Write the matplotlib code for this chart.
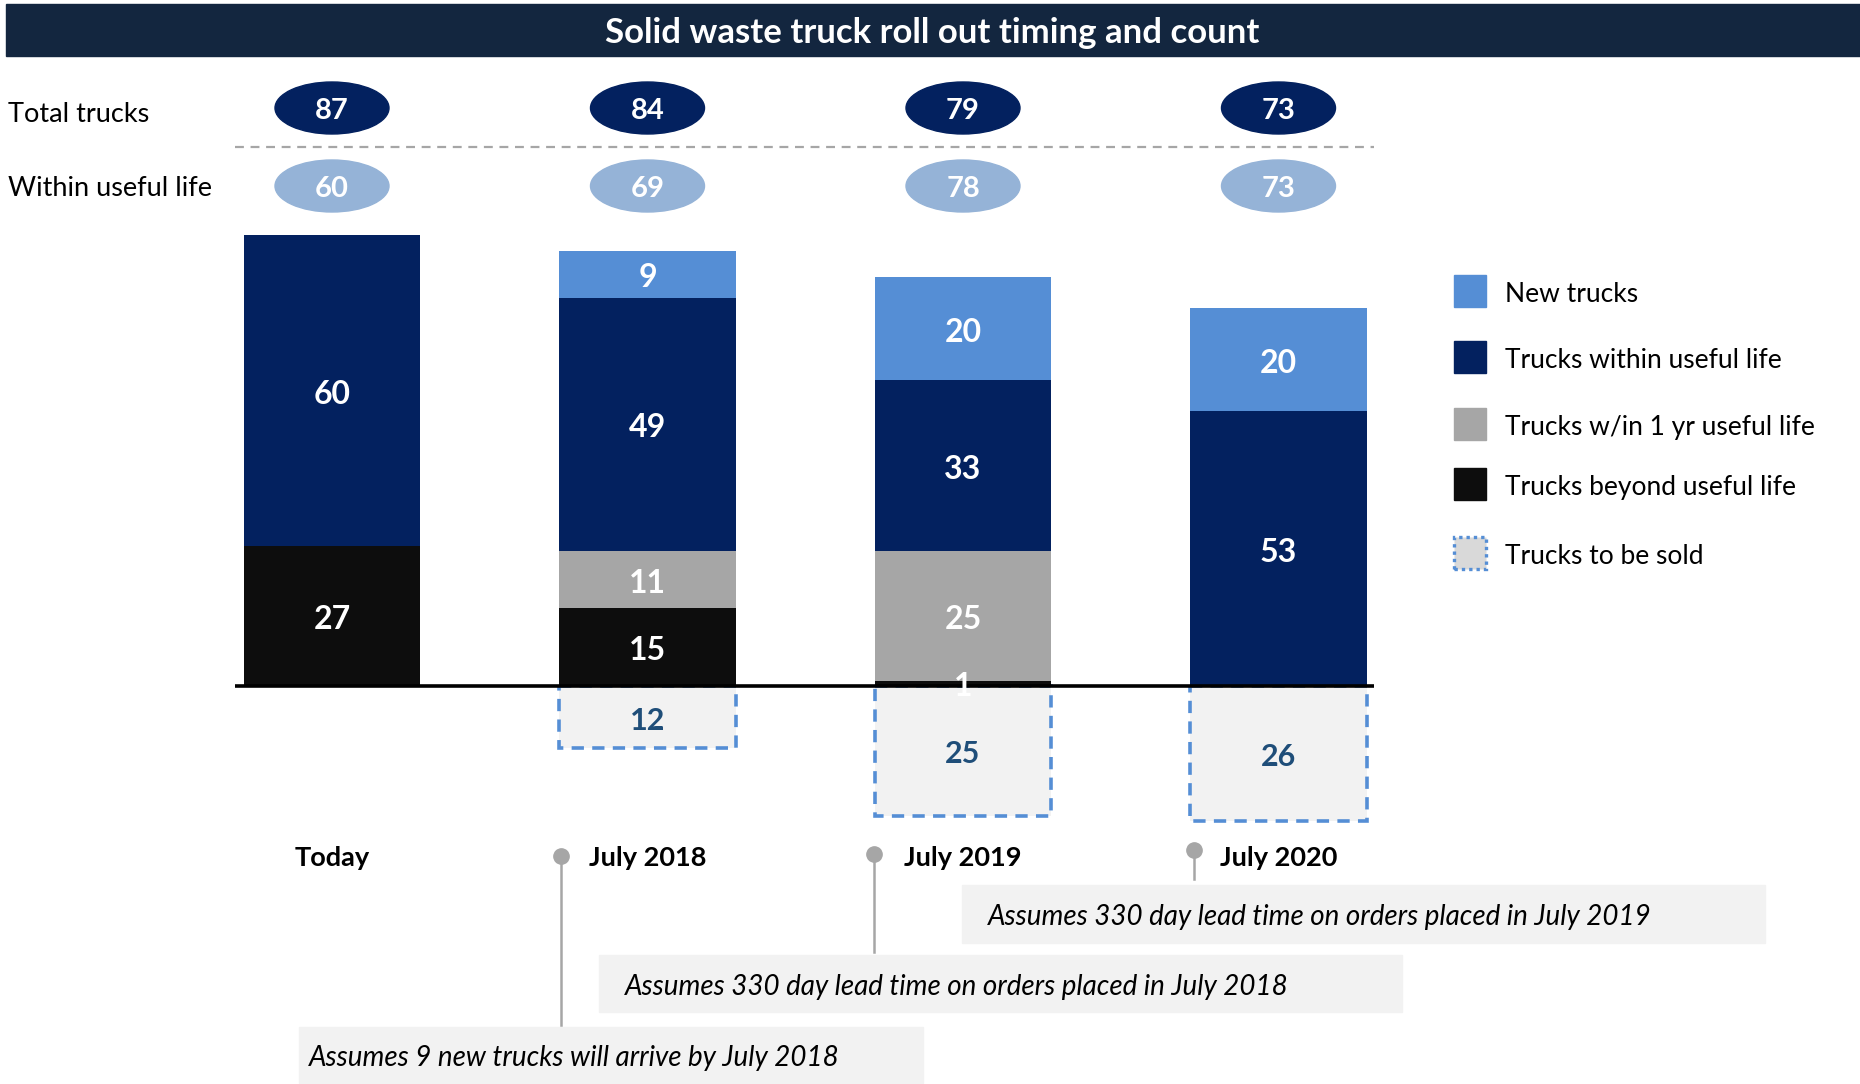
#Solid waste truck roll out chart
#Stacked bars of the fleet, with trucks to be sold hanging below the baseline.
import matplotlib.pyplot as plt
from matplotlib.patches import Rectangle, Ellipse

plt.rcParams['font.family'] = ['Lato', 'DejaVu Sans']

#Data
categories = ['Today', 'July 2018', 'July 2019', 'July 2020']
beyond = [27, 15, 1, 0]        #trucks beyond useful life
within_1yr = [0, 11, 25, 0]    #trucks w/in 1 yr useful life
within = [60, 49, 33, 53]      #trucks within useful life
new = [0, 9, 20, 20]           #new trucks
sold = [0, 12, 25, 26]         #trucks to be sold
total = [87, 84, 79, 73]
useful = [60, 69, 78, 73]

legend_labels = ['New trucks', 'Trucks within useful life', 'Trucks w/in 1 yr useful life',
                 'Trucks beyond useful life', 'Trucks to be sold']
notes = ['Assumes 330 day lead time on orders placed in July 2019',
         'Assumes 330 day lead time on orders placed in July 2018',
         'Assumes 9 new trucks will arrive by July 2018']

#Colours
c_new = '#558ed5'
c_within = '#03215f'
c_1yr = '#a6a6a6'
c_beyond = '#0d0d0d'
c_sold = '#f2f2f2'
c_light = '#95b3d7'

W, H = 1860, 1084
fig = plt.figure(figsize=(W / 100, H / 100), dpi=100)
ax = fig.add_axes([0, 0, 1, 1])

#pixel layout -> data units (category 0 sits at x=332px, baseline at y=686px)
X0, XS = 332, 315.5
Y0, YS = 686, 5.18
def dx(px):
    return (px - X0) / XS
def dy(py):
    return (Y0 - py) / YS

ax.set_xlim(dx(0), dx(W))
ax.set_ylim(dy(H), dy(0))
ax.axis('off')

x = list(range(len(categories)))
bw = 0.56
nudge = 3.5 / YS   #lato sits a bit high with va='center'

#trucks to be sold (below the line)
for i in x:
    if sold[i] > 0:
        ax.bar(i, -sold[i], bw, color=c_sold, edgecolor=c_new, linewidth=2.6,
               linestyle=(0, (3.4, 2.3)), zorder=1)
        ax.text(i, -sold[i] / 2 - nudge, str(sold[i]), ha='center', va='center',
                fontsize=22, fontweight='bold', color='#1f4e79', zorder=5)

#stacked bars
bottom = [0] * len(x)
for vals, col in [(beyond, c_beyond), (within_1yr, c_1yr), (within, c_within), (new, c_new)]:
    ax.bar(x, vals, bw, bottom=bottom, color=col, zorder=2)
    for i in x:
        if vals[i] > 0:
            ax.text(i, bottom[i] + vals[i] / 2 - nudge, str(vals[i]), ha='center', va='center',
                    fontsize=23, fontweight='bold', color='white', zorder=5)
    bottom = [b + v for b, v in zip(bottom, vals)]

#baseline
ax.plot([dx(235), dx(1374)], [0, 0], color='black', lw=2.6, zorder=4, solid_capstyle='butt')

#title bar
fig.patches.append(Rectangle((6 / W, 1 - 56 / H), (W - 6) / W, 52 / H, transform=fig.transFigure,
                             color='#13263f', zorder=0))
fig.text(932 / W, 1 - 33 / H, 'Solid waste truck roll out timing and count', ha='center',
         va='center', fontsize=25, fontweight='bold', color='white')

#row labels and ellipses
ax.text(dx(8), dy(114), 'Total trucks', ha='left', va='center', fontsize=19.5, color='black')
ax.text(dx(8), dy(188), 'Within useful life', ha='left', va='center', fontsize=19.5, color='black')
ax.plot([dx(235), dx(1374)], [dy(147), dy(147)], color='#a6a6a6', lw=1.6, linestyle=(0, (4, 3)))
for i in x:
    ax.add_patch(Ellipse((i, dy(108)), 114 / XS, 52 / YS, color=c_within, zorder=3))
    ax.text(i, dy(111), str(total[i]), ha='center', va='center', fontsize=21,
            fontweight='bold', color='white', zorder=5)
    ax.add_patch(Ellipse((i, dy(186)), 114 / XS, 52 / YS, color=c_light, zorder=3))
    ax.text(i, dy(189), str(useful[i]), ha='center', va='center', fontsize=21,
            fontweight='bold', color='white', zorder=5)

#category labels
for i in x:
    ax.text(i, dy(858), categories[i], ha='center', va='center', fontsize=19.5,
            fontweight='bold', color='black')

#pins and notes
pins = [(561, 856, 1025), (874, 854, 952), (1194, 850, 879)]
for px, py, pend in pins:
    ax.plot([dx(px), dx(px)], [dy(py), dy(pend)], color='#a6a6a6', lw=1.8, zorder=1)
    ax.plot(dx(px), dy(py), 'o', color='#a6a6a6', markersize=11, zorder=2)

boxes = [(962, 885, 1765, 943), (599, 955, 1402, 1012), (299, 1027, 923, 1083)]
text_pad = [26, 26, 10]
for (l, t, r, b), note, pad in zip(boxes, notes, text_pad):
    ax.add_patch(Rectangle((dx(l), dy(b)), dx(r) - dx(l), dy(t) - dy(b), color='#f2f2f2', zorder=0))
    ax.text(dx(l + pad), dy((t + b) / 2 + 3), note, ha='left', va='center', fontsize=20,
            style='italic', color='black', zorder=3)

#legend
leg_y = [291, 357, 424, 484, 553]
leg_cols = [c_new, c_within, c_1yr, c_beyond]
for k, lab in enumerate(legend_labels):
    if k < 4:
        ax.add_patch(Rectangle((dx(1454), dy(leg_y[k] + 16)), 32 / XS, 32 / YS, color=leg_cols[k]))
    else:
        ax.add_patch(Rectangle((dx(1454), dy(leg_y[k] + 16)), 32 / XS, 32 / YS, facecolor='#d9d9d9',
                               edgecolor=c_new, linewidth=2.4, linestyle=(0, (1, 1.2))))
    ax.text(dx(1505), dy(leg_y[k] + 3), lab, ha='left', va='center', fontsize=19, color='black')

fig.savefig('out.png', dpi=100)
